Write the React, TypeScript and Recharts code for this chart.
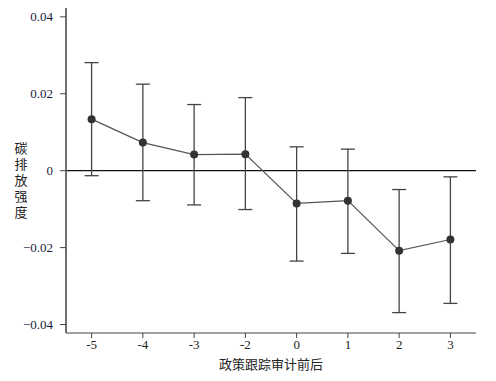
import {
  LineChart,
  Line,
  XAxis,
  YAxis,
  ErrorBar,
  ReferenceLine,
  Label,
} from "recharts";

// ──────────────────────────────────────────────
// Data
// ──────────────────────────────────────────────

const periods = ["-5", "-4", "-3", "-2", "0", "1", "2", "3"];
const estimates = [0.0134, 0.0073, 0.0042, 0.0043, -0.0085, -0.0078, -0.0208, -0.0179];
const upperCI = [0.0281, 0.0225, 0.0172, 0.019, 0.0062, 0.0056, -0.0049, -0.0016];
const lowerCI = [-0.0013, -0.0078, -0.0089, -0.0101, -0.0235, -0.0215, -0.0369, -0.0345];
const yTicks = [-0.04, -0.02, 0, 0.02, 0.04];

const yLabel = "碳排放强度";
const xLabel = "政策跟踪审计前后";

const data = periods.map((p, i) => ({
  period: p,
  coef: estimates[i],
  ci: [estimates[i] - lowerCI[i], upperCI[i] - estimates[i]],
}));

// ──────────────────────────────────────────────
// Helpers
// ──────────────────────────────────────────────

const SERIF = "Liberation Serif, Times New Roman, serif";
const CJK = "Noto Sans CJK SC, sans-serif";

function fmtY(v: number): string {
  if (v === 0) return "0";
  const s = Math.abs(v).toFixed(2);
  return v < 0 ? `\u2212${s}` : s;
}

// upright vertical axis title (one char per line), as in the original
function VerticalLabel(props: any) {
  const vb = props.viewBox || { x: 0, y: 0, width: 66, height: 325 };
  return (
    <text
      x={vb.x + 21}
      y={vb.y + vb.height / 2 + 11}
      textAnchor="middle"
      style={{
        fontFamily: CJK,
        fontSize: 13,
        fill: "#222",
        writingMode: "vertical-rl",
        letterSpacing: 3,
      }}
    >
      {yLabel}
    </text>
  );
}

const tickStyle = { fontSize: 13, fontFamily: SERIF, fill: "#222" };

// ──────────────────────────────────────────────
// Component
// ──────────────────────────────────────────────

export default function App() {
  return (
    <div style={{ position: "absolute", left: 0, top: 0, background: "#fff" }}>
      <LineChart
        width={496}
        height={381}
        data={data}
        margin={{ top: 8, right: 20, left: 0, bottom: 0 }}
      >
        <XAxis
          dataKey="period"
          height={48}
          padding={{ left: 25.6, right: 25.6 }}
          tickLine={{ stroke: "#444" }}
          tickSize={5}
          tickMargin={2}
          axisLine={{ stroke: "#808080", strokeWidth: 1.6 }}
          tick={{ ...tickStyle, style: tickStyle }}
          interval={0}
        >
          <Label
            value={xLabel}
            position="insideBottom"
            offset={12}
            style={{ fontSize: 13, fontFamily: CJK, fill: "#222" }}
          />
        </XAxis>
        <XAxis
          xAxisId="top"
          orientation="top"
          dataKey="period"
          height={0}
          tick={false}
          tickLine={false}
          axisLine={{ stroke: "#a0a0a0", strokeWidth: 1 }}
        />
        <YAxis
          width={66}
          domain={[-0.0422, 0.0423]}
          ticks={yTicks}
          allowDataOverflow
          tickFormatter={fmtY}
          tickSize={6}
          tickMargin={7}
          tickLine={{ stroke: "#444" }}
          axisLine={{ stroke: "#707070", strokeWidth: 2 }}
          tick={{ ...tickStyle, fill: "#1c1c3a", style: { ...tickStyle, fill: "#1c1c3a" } }}
        >
          <Label content={<VerticalLabel />} />
        </YAxis>
        <YAxis
          yAxisId="right"
          orientation="right"
          width={0}
          tick={false}
          tickLine={false}
          axisLine={{ stroke: "#909090", strokeWidth: 1.6 }}
        />
        <ReferenceLine y={0} stroke="#111" strokeWidth={1.2} />
        <Line
          dataKey="coef"
          stroke="#555"
          strokeWidth={1.2}
          dot={{ r: 4, fill: "#333", stroke: "#333", strokeWidth: 0 }}
          activeDot={false}
          isAnimationActive={false}
        >
          <ErrorBar
            dataKey="ci"
            width={7}
            stroke="#444"
            strokeWidth={1.3}
            isAnimationActive={false}
          />
        </Line>
      </LineChart>
    </div>
  );
}
